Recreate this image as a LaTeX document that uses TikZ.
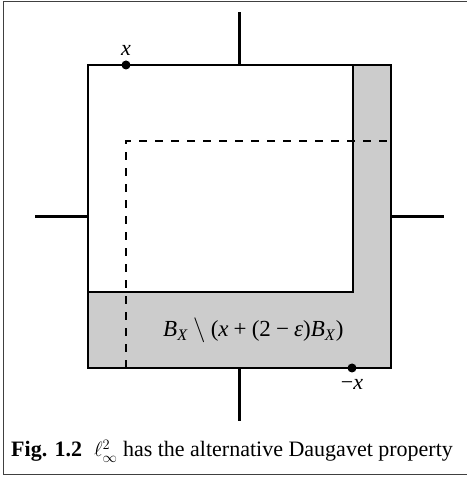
\documentclass[tikz,border=0pt]{standalone}
\usepackage{fontspec}
\setmainfont{Liberation Serif}
\tikzset{
  frameline/.style={draw=black!75, line width=1pt},
  edge/.style={draw=black, line width=1.6pt},
  axis/.style={draw=black, line width=3pt},
  dashline/.style={draw=black, line width=1.6pt, dash pattern=on 8pt off 8pt},
  pt/.style={circle, fill=black, inner sep=0pt, minimum size=9pt},
  lab/.style={font=\fontsize{22}{26}\selectfont, inner sep=0pt},
}
\begin{document}
\begin{tikzpicture}[x=1pt,y=1pt]
\useasboundingbox (0,0) rectangle (466,478);
\draw[frameline] (472,3) -- (3,3) -- (3,476) -- (472,476);
% corners
\coordinate (SW) at (88,110);
\coordinate (NE) at (391,413);
\coordinate (IB) at (88,186);
\coordinate (IC) at (353,186);
\coordinate (IT) at (353,413);
\coordinate (DB) at (126,110);
\coordinate (DC) at (126,337);
\coordinate (DR) at (391,337);
\fill[fill=black!20] (SW) rectangle (NE);
\fill[white] (IB) rectangle (IT);
\draw[edge] (IB) -- (IC) -- (IT);
\draw[edge] (SW) rectangle (NE);
\draw[dashline] (DB) -- (DC) -- (DR);
% axes
\coordinate (T0) at (239.5,413); \coordinate (T1) at (239.5,466);
\coordinate (B0) at (239.5,110); \coordinate (B1) at (239.5,57);
\coordinate (L0) at (88,261.5);  \coordinate (L1) at (35,261.5);
\coordinate (R0) at (391,261.5); \coordinate (R1) at (444,261.5);
\draw[axis] (T0) -- (T1);
\draw[axis] (B0) -- (B1);
\draw[axis] (L0) -- (L1);
\draw[axis] (R0) -- (R1);
% points
\node[pt] (px) at (126,413) {};
\node[pt] (pmx) at (352,110) {};
\node[lab, anchor=base] (lx) at (126,422) {\textit{x}};
\node[lab, anchor=base] (lmx) at (352,88) {−\textit{x}};
\node[lab, font=\fontsize{23}{27}\selectfont, anchor=base west] (reg) at (163,141) {\textit{B}\textsubscript{\textit{X}}\:$\setminus$\:(\textit{x}\:+\:(2\:−\:\textit{ε})\textit{B}\textsubscript{\textit{X}})};
\node[lab, anchor=base west] (cap) at (11,21) {\textbf{Fig. 1.2}\hspace{12pt}$\ell^2_\infty$ has the alternative Daugavet property};
\end{tikzpicture}
\end{document}
